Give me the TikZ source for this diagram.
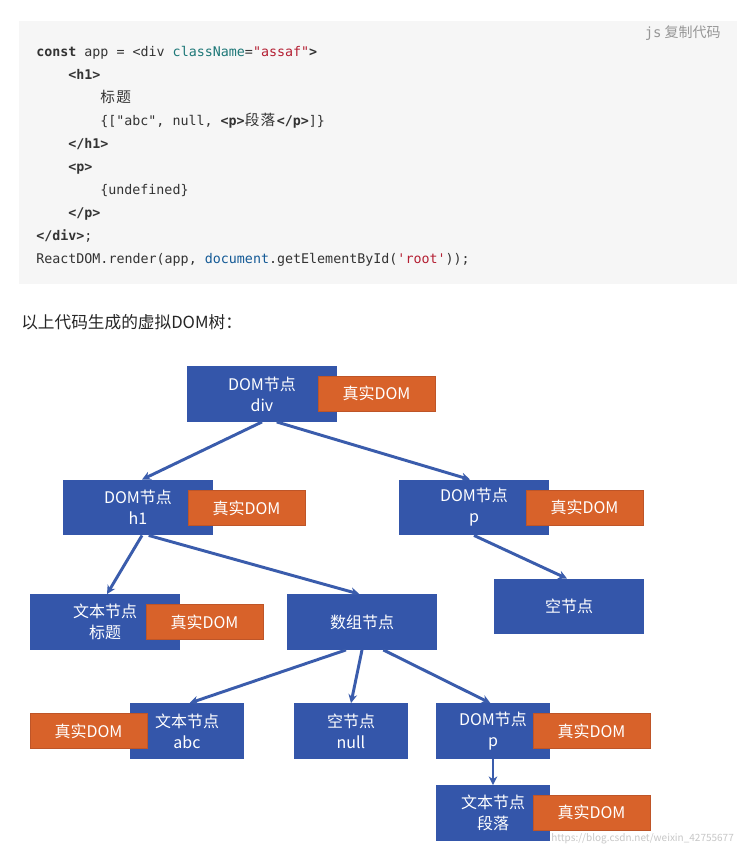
\documentclass[tikz,border=0pt]{standalone}
\usepackage{fontspec}
\setmainfont{Noto Sans CJK SC}
\setmonofont{DejaVu Sans Mono}
\newfontfamily\cjk{Noto Sans CJK SC}
\usetikzlibrary{arrows.meta}
\definecolor{nodeblue}{RGB}{52,86,170}
\definecolor{linkblue}{RGB}{58,92,172}
\definecolor{realorange}{RGB}{216,98,42}
\definecolor{orangeedge}{RGB}{190,85,40}
\definecolor{codebg}{RGB}{246,246,246}
\definecolor{codetext}{RGB}{51,51,51}
\definecolor{codeteal}{RGB}{30,120,120}
\definecolor{codered}{RGB}{180,30,50}
\definecolor{codeblue}{RGB}{20,90,150}
\definecolor{hintgray}{RGB}{150,150,150}
\newcommand\cjc[1]{\makebox[12pt][l]{\cjk\fontsize{11}{11}\selectfont#1}}
\tikzset{
  bigbox/.style={fill=nodeblue, draw=none, inner sep=0pt, minimum width=112.5pt, minimum height=41.5pt,
    text=white, align=center, font=\fontsize{12}{15.75}\selectfont},
  smallbox/.style={bigbox, minimum width=85.5pt},
  realbox/.style={fill=realorange, draw=orangeedge, line width=0.4pt, inner sep=0pt, minimum width=87.75pt,
    minimum height=26.25pt, text=white, font=\fontsize{12}{14}\selectfont},
  codeline/.style={anchor=base west, inner sep=0pt, text=codetext, font=\ttfamily\fontsize{10}{12}\selectfont},
  link/.style={draw=linkblue, line width=2.2pt, -{Stealth[length=6.5pt,width=6.5pt]}}
}
\begin{document}
\begin{tikzpicture}[x=0.75pt,y=-0.75pt]
\useasboundingbox (0,0) rectangle (740,845);
\fill[white] (0,0) rectangle (740,845);
% code block
\fill[codebg] (19,21) rectangle (737,284);
\node[anchor=base east, inner sep=0pt, text=hintgray, font=\fontsize{10.5}{12}\selectfont] (hint) at (721,38) {{\ttfamily js} 复制代码};
\node[codeline] (c1) at (36,56.5) {{\bfseries const} app = <div \textcolor{codeteal}{className}=\textcolor{codered}{"assaf"}{\bfseries >}};
\node[codeline] (c2) at (68,79.5) {{\bfseries <h1>}};
\node[codeline] (c3) at (100,102.5) {\cjc{标}\cjc{题}};
\node[codeline] (c4) at (100,125.5) {\{["abc", null, {\bfseries <p>}\cjc{段}\cjc{落}{\bfseries </p>}]\}};
\node[codeline] (c5) at (68,148.5) {{\bfseries </h1>}};
\node[codeline] (c6) at (68,171.5) {{\bfseries <p>}};
\node[codeline] (c7) at (100,194.5) {\{undefined\}};
\node[codeline] (c8) at (68,217.5) {{\bfseries </p>}};
\node[codeline] (c9) at (36,240.5) {{\bfseries </div>};};
\node[codeline] (c10) at (36,263.5) {ReactDOM.render(app, \textcolor{codeblue}{document}.getElementById(\textcolor{codered}{'root'}));};
% heading
\node[anchor=west, inner sep=0pt, text=black!85, font=\fontsize{12.5}{14}\selectfont] (head) at (21,322) {以上代码生成的虚拟DOM树：};
% tree nodes
\node[bigbox] (div) at (262,394) {DOM节点\\div};
\node[bigbox] (h1) at (138,507.5) {DOM节点\\h1};
\node[bigbox] (p) at (474,507.5) {DOM节点\\p};
\node[bigbox] (title) at (105,622) {文本节点\\标题};
\node[bigbox] (arr) at (362,622) {数组节点};
\node[bigbox] (emptyp) at (569,606.5) {空节点};
\node[smallbox] (abc) at (187,731) {文本节点\\abc};
\node[smallbox] (null) at (351,731) {空节点\\null};
\node[smallbox] (domp) at (493,731) {DOM节点\\p};
\node[smallbox] (para) at (493,813) {文本节点\\段落};
% real DOM boxes
\node[realbox] (rdiv) at (376.5,393.5) {真实DOM};
\node[realbox] (rh1) at (246.5,508) {真实DOM};
\node[realbox] (rp) at (584.5,507.5) {真实DOM};
\node[realbox] (rtitle) at (204.5,622) {真实DOM};
\node[realbox] (rabc) at (88.5,731) {真实DOM};
\node[realbox] (rdomp) at (591.5,731) {真实DOM};
\node[realbox] (rpara) at (591.5,812.5) {真实DOM};
% connectors
\draw[link] (div.south) -- ([xshift=3pt]h1.north);
\draw[link] ([xshift=11pt]div.south) -- ([xshift=-3pt]p.north);
\draw[link] ([xshift=3pt]h1.south) -- ([xshift=1.5pt]title.north);
\draw[link] ([xshift=8pt]h1.south) -- ([xshift=-2pt]arr.north);
\draw[link] (p.south) -- ([xshift=-1.5pt]emptyp.north);
\draw[link] ([xshift=-12pt]arr.south) -- ([xshift=2pt]abc.north);
\draw[link] ([xshift=0pt]arr.south) -- (null.north);
\draw[link] ([xshift=16pt]arr.south) -- ([xshift=-2pt]domp.north);
\draw[link] (domp.south) -- (para.north);
% watermark
\node[anchor=west, inner sep=0pt, text=black!22, font=\fontsize{7.5}{9}\selectfont] (wm) at (551,839) {https://blog.csdn.net/weixin\_42755677};
\end{tikzpicture}
\end{document}
